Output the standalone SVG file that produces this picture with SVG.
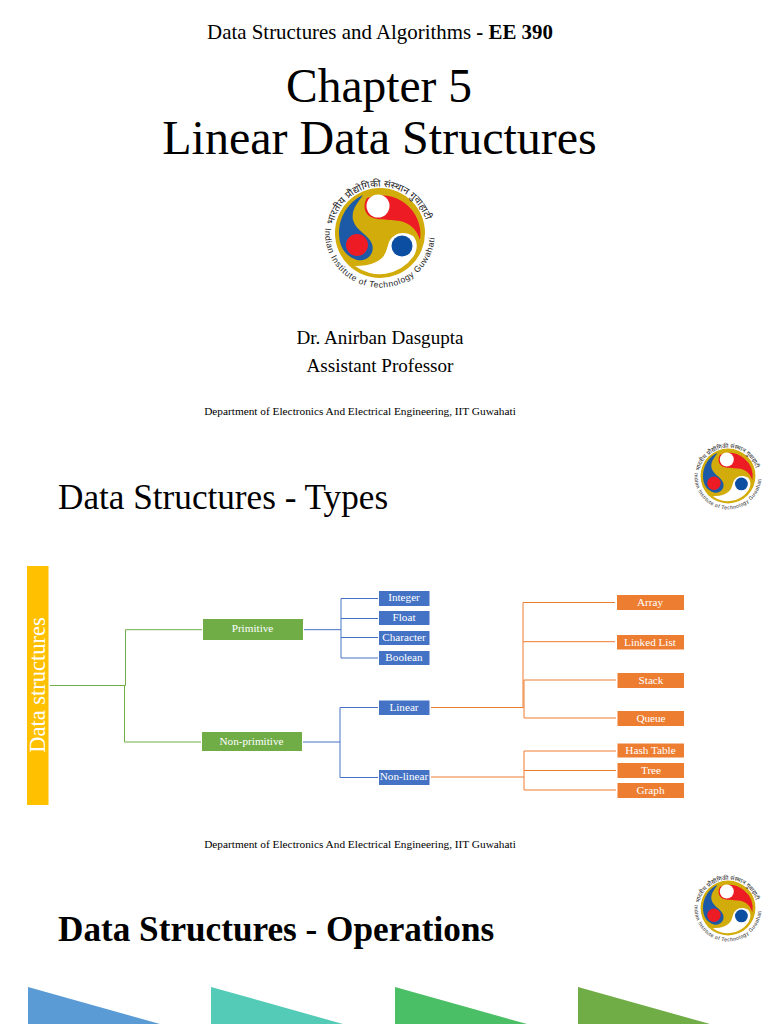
<svg xmlns="http://www.w3.org/2000/svg" width="768" height="1024" viewBox="0 0 768 1024">
<style>
text{font-family:"Liberation Serif","Times New Roman",serif;fill:#000}
.c{text-anchor:middle}
.lb{font-size:11.2px;fill:#fff;text-anchor:middle}
.g{fill:#70AD47}.b{fill:#4472C4}.o{fill:#ED7D31}
.lg,.lb2,.lo{fill:none;stroke-width:1}
.lg{stroke:#70AD47}.lb2{stroke:#4472C4}.lo{stroke:#ED7D31}
.seal{font-family:"Liberation Sans","Noto Sans",sans-serif;font-size:8.500px;fill:#222}
.sealh{font-family:"Noto Sans","Liberation Sans",sans-serif;font-size:9.500px;fill:#222}
</style>
<defs>
<path id="arcBottom" d="M-54.800,-5 A55,55 0 1 0 54.800,-5"/>
<path id="arcTop" d="M-47,-8 A48,48 0 0 1 47,-8"/>
<g id="seal">
<circle r="45" fill="#D2AC0A"/>
<path d="M-25,33 A41,41 0 0 0 33,24 C38,17 38,8 33,3 C24,-3 13,0 9,9 C6,18 6,24 -4,29 C-10,32 -18,33 -25,33Z" fill="#fff"/>
<path d="M-17,-38 C-30,-32 -41,-18 -41,0 C-41,14 -35,23 -23,27 C-12,29 -5,20 -8,11 C-11,2 -24,-2 -27,-13 C-29,-24 -22,-30 -17,-38Z" fill="#1C5AA8"/>
<path d="M-13,-35 A39,39 0 0 1 40,7 C37,-3 30,-10 20,-12 C8,-14 -4,-12 -11,-17 C-16,-21 -17,-29 -13,-35Z" fill="#ED1C24"/>
<circle cx="-2" cy="-27" r="11.500" fill="#fff"/>
<circle cx="-23" cy="12" r="11" fill="#ED1C24"/>
<circle cx="22" cy="13" r="10.500" fill="#0B4EA2"/>
<text class="seal"><textPath href="#arcBottom" textLength="172" lengthAdjust="spacing">Indian Institute of Technology Guwahati</textPath></text>
<text class="sealh"><textPath href="#arcTop" textLength="126" lengthAdjust="spacingAndGlyphs">भारतीय प्रौद्योगिकी संस्थान गुवाहाटी</textPath></text>
</g>
</defs>
<rect width="768" height="1024" fill="#fff"/>

<text class="c" x="380" y="39" font-size="20.900">Data Structures and Algorithms <tspan font-weight="bold">- EE 390</tspan></text>
<text class="c" x="379" y="102" font-size="47.500">Chapter 5</text>
<text class="c" x="379.500" y="154" font-size="48">Linear Data Structures</text>
<use href="#seal" transform="translate(380,233)"/>
<text class="c" x="380" y="344" font-size="19.100">Dr. Anirban Dasgupta</text>
<text class="c" x="380" y="372" font-size="19.100">Assistant Professor</text>
<text class="c" x="360" y="415" font-size="11.300">Department of Electronics And Electrical Engineering, IIT Guwahati</text>

<use href="#seal" transform="translate(728,476) scale(.61)"/>
<text x="58" y="509" font-size="35.200">Data Structures - Types</text>

<g id="connectors">
<path class="lg" d="M50,685.500H125.500V629.700H202M124.500,685.500V742H201"/>
<path class="lb2" d="M304,629.700H341M341,598.500V658M341,598.500H378M341,618.500H378M341,637.500H378M341,658H378M303,742H340M340,707.500V777.500M340,707.500H378M340,777.500H378"/>
<path class="lo" d="M431,707.500H523.500M523,602.500V707.500M523,602.500H615M523,641.700H615M524,680V718M524,680H616M524,718H616M431,777H524M524,751V790M524,751H616M524,770.500H616M524,790H616"/>
</g>

<g id="data-structures"><rect x="27" y="566" width="21.500" height="239" fill="#FFC000"/><text transform="translate(45,685) rotate(-90)" class="c" font-size="22.500" style="fill:#fff">Data structures</text></g>
<g id="primitive"><rect class="g" x="203" y="619" width="100" height="21"/><text class="lb" x="252.500" y="632">Primitive</text></g>
<g id="non-primitive"><rect class="g" x="202" y="732" width="100" height="19"/><text class="lb" x="251.500" y="744.500">Non-primitive</text></g>
<g id="integer"><rect class="b" x="379" y="591" width="50.500" height="15"/><text class="lb" x="404" y="601">Integer</text></g>
<g id="float"><rect class="b" x="379" y="611" width="50.500" height="14"/><text class="lb" x="404" y="621">Float</text></g>
<g id="character"><rect class="b" x="379" y="631" width="50.500" height="14"/><text class="lb" x="404" y="641">Character</text></g>
<g id="boolean"><rect class="b" x="379" y="651" width="50.500" height="14"/><text class="lb" x="404" y="660.500">Boolean</text></g>
<g id="linear"><rect class="b" x="379" y="700.500" width="50.500" height="14.500"/><text class="lb" x="404" y="710.500">Linear</text></g>
<g id="non-linear"><rect class="b" x="379" y="770" width="50.500" height="15"/><text class="lb" x="404" y="780">Non-linear</text></g>
<g id="array"><rect class="o" x="617" y="595" width="67" height="15"/><text class="lb" x="650" y="606">Array</text></g>
<g id="linked-list"><rect class="o" x="617" y="635" width="67" height="14.500"/><text class="lb" x="650" y="645.500">Linked List</text></g>
<g id="stack"><rect class="o" x="617.500" y="673" width="66.500" height="15"/><text class="lb" x="651" y="683.500">Stack</text></g>
<g id="queue"><rect class="o" x="617.500" y="711" width="66.500" height="15"/><text class="lb" x="651" y="722">Queue</text></g>
<g id="hash-table"><rect class="o" x="617.500" y="743.500" width="66.500" height="14"/><text class="lb" x="650.500" y="753.500">Hash Table</text></g>
<g id="tree"><rect class="o" x="617.500" y="763" width="66.500" height="15"/><text class="lb" x="651" y="774">Tree</text></g>
<g id="graph"><rect class="o" x="617.500" y="783" width="66.500" height="15"/><text class="lb" x="650.500" y="793.500">Graph</text></g>

<text class="c" x="360" y="848" font-size="11.300">Department of Electronics And Electrical Engineering, IIT Guwahati</text>
<use href="#seal" transform="translate(728,908) scale(.61)"/>
<text x="58" y="941" font-size="35.200" font-weight="bold">Data Structures - Operations</text>

<path d="M28,987L160,1024H28Z" fill="#5B9BD5"/>
<path d="M211,987L343,1024H211Z" fill="#53CBB7"/>
<path d="M395,987L527,1024H395Z" fill="#4BBF65"/>
<path d="M578,987L710,1024H578Z" fill="#70AD47"/>
</svg>
